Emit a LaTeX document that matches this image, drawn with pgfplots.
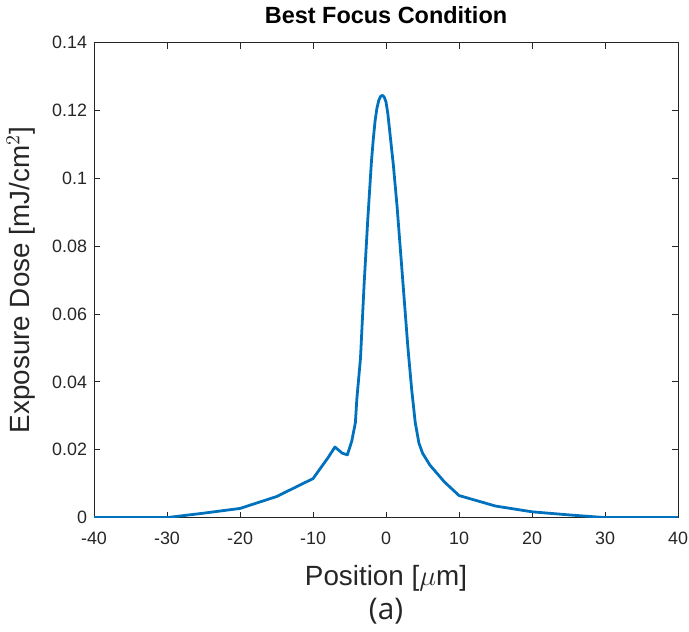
\documentclass[border=0pt]{standalone}
\usepackage{pgfplots}
\pgfplotsset{compat=1.18}
\usetikzlibrary{calc}
\usepackage{fontspec}
\setmainfont{Liberation Sans}
\newfontfamily\opensans{Open Sans}
\definecolor{mblue}{rgb}{0,0.447,0.741}
\definecolor{axgray}{gray}{0.15}
\begin{document}
\begin{tikzpicture}
\begin{axis}[
  scale only axis, width=294pt, height=239pt,
  xmin=-40, xmax=40, ymin=0, ymax=0.14,
  xtick={-40,-30,-20,-10,0,10,20,30,40},
  ytick={0,0.02,0.04,0.06,0.08,0.1,0.12,0.14},
  tick align=inside, major tick length=3pt,
  axis line style={axgray, line width=0.5pt},
  tick style={axgray, line width=0.5pt},
  ticklabel style={font=\fontsize{9}{10}\selectfont, text=axgray},
  xticklabel style={yshift=-3.5pt},
  /pgf/number format/assume math mode=true,
  scaled y ticks=false,
  yticklabel style={/pgf/number format/fixed, /pgf/number format/precision=2},
  title={\bfseries Best Focus Condition},
  title style={font=\fontsize{11.8}{13}\selectfont, yshift=0pt},
  xlabel={Position [$\mu$m]\\[1pt]{\opensans\fontsize{15}{17}\selectfont (a)}},
  xlabel style={font=\fontsize{14}{16}\selectfont, text=axgray, align=center, yshift=-4pt},
  ylabel={Exposure Dose [mJ/cm$^2$]},
  ylabel style={font=\fontsize{14}{16}\selectfont, text=axgray, yshift=1.5pt},
]
\addplot[mblue, line width=1.4pt, line join=round] coordinates {
(-40,0) (-30,0) (-25,0.0013) (-20,0.0027) (-15,0.0062) (-10,0.0115)
(-8,0.0175) (-7,0.0208) (-6,0.019) (-5.3,0.0185) (-4.7,0.0225) (-4.2,0.028)
(-4,0.035) (-3.5,0.047) (-3,0.069) (-2.5,0.088) (-2,0.105) (-1.75,0.1115)
(-1.5,0.117) (-1.25,0.1207) (-1,0.1230) (-0.75,0.1242) (-0.5,0.1245)
(-0.25,0.1240) (0,0.1225) (0.25,0.119) (0.5,0.114) (1,0.104) (1.5,0.092)
(2,0.078) (2.5,0.064) (3,0.050) (3.5,0.038) (4,0.028) (4.5,0.022)
(5,0.019) (6,0.0155) (7,0.013) (8,0.0105) (10,0.0065) (15,0.0034)
(20,0.0017) (25,0.0008) (30,0) (40,0)
};
\end{axis}
\pgfresetboundingbox
\path[use as bounding box] (current axis.outer south west) rectangle ($(current axis.outer north east -| current axis.east)+(5.5pt,0)$);
\end{tikzpicture}
\end{document}
